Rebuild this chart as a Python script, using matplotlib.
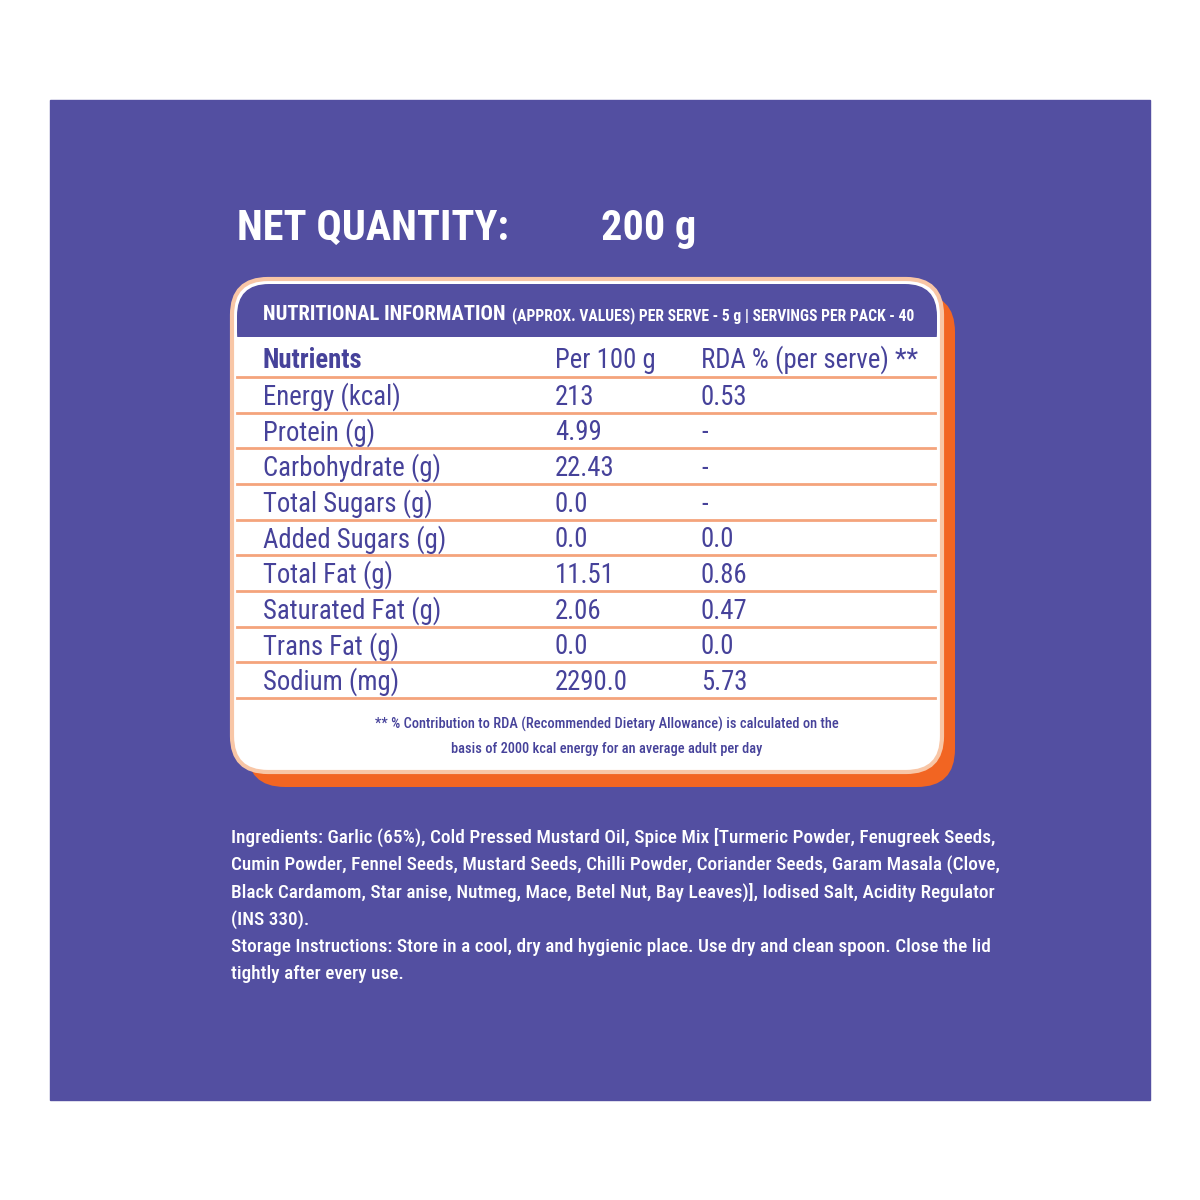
import matplotlib
matplotlib.use('Agg')
import matplotlib.pyplot as plt
from matplotlib.patches import FancyBboxPatch, Rectangle

plt.rcParams['font.family'] = ['Roboto Condensed', 'Roboto', 'DejaVu Sans']

# Label data
net_label = 'NET QUANTITY:'
net_quantity = '200 g'
header_main = 'NUTRITIONAL INFORMATION'
header_sub = '(APPROX. VALUES) PER SERVE - 5 g | SERVINGS PER PACK - 40'
columns = ['Nutrients', 'Per 100 g', 'RDA % (per serve) **']
nutrients = ['Energy (kcal)', 'Protein (g)', 'Carbohydrate (g)', 'Total Sugars (g)',
             'Added Sugars (g)', 'Total Fat (g)', 'Saturated Fat (g)', 'Trans Fat (g)',
             'Sodium (mg)']
per_100g = ['213', '4.99', '22.43', '0.0', '0.0', '11.51', '2.06', '0.0', '2290.0']
rda = ['0.53', '-', '-', '-', '0.0', '0.86', '0.47', '0.0', '5.73']
footnote = ['** % Contribution to RDA (Recommended Dietary Allowance) is calculated on the',
            'basis of 2000 kcal energy for an average adult per day']
ingredients = [
    'Ingredients: Garlic (65%), Cold Pressed Mustard Oil, Spice Mix [Turmeric Powder, Fenugreek Seeds,',
    'Cumin Powder, Fennel Seeds, Mustard Seeds, Chilli Powder, Coriander Seeds, Garam Masala (Clove,',
    'Black Cardamom, Star anise, Nutmeg, Mace, Betel Nut, Bay Leaves)], Iodised Salt, Acidity Regulator',
    '(INS 330).',
    'Storage Instructions: Store in a cool, dry and hygienic place. Use dry and clean spoon. Close the lid',
    'tightly after every use.',
]

PURPLE = '#534FA1'
TEXT_PURPLE = '#46429A'
ORANGE = '#F26522'
PEACH = '#F8C6A6'
LINE = '#F4A47C'

fig = plt.figure(figsize=(12, 12), dpi=100)
ax = fig.add_axes([0, 0, 1, 1])
ax.set_xlim(0, 1200)
ax.set_ylim(1200, 0)
ax.axis('off')
renderer = fig.canvas.get_renderer()


def fit_size(s, width, size, **kw):
    # shrink the font size so that s is no wider than width pixels
    t = ax.text(0, 0, s, fontsize=size, **kw)
    w = t.get_window_extent(renderer).width
    t.remove()
    return size * min(1.0, width / w)


# background panel
ax.add_patch(Rectangle((50, 100), 1100, 1000, color=PURPLE, zorder=0))

# net quantity
s = min(fit_size(net_label, 272, 48, fontweight='bold'),
        fit_size(net_quantity, 112, 48, fontweight='bold'))
ax.text(237, 240, net_label, color='white', fontsize=s, fontweight='bold',
        va='baseline', ha='left')
ax.text(601, 240, net_quantity, color='white', fontsize=s, fontweight='bold',
        va='baseline', ha='left')

# card: orange shadow, white card, purple header
ax.add_patch(FancyBboxPatch((247, 294), 708, 493, boxstyle='round,pad=0,rounding_size=38',
                            fc=ORANGE, ec='none', zorder=1))
ax.add_patch(FancyBboxPatch((232, 279), 710, 493, boxstyle='round,pad=0,rounding_size=36',
                            fc='white', ec=PEACH, lw=3, zorder=2))
ax.add_patch(FancyBboxPatch((237, 284), 700, 80, boxstyle='round,pad=0,rounding_size=32',
                            fc=PURPLE, ec='none', zorder=3))
ax.add_patch(Rectangle((236, 337), 702, 40, fc='white', ec='none', zorder=3))

s = fit_size(header_main, 244, 20, fontweight='bold')
ax.text(263, 320, header_main, color='white', fontsize=s, fontweight='bold',
        va='baseline', ha='left', zorder=4)
s = fit_size(header_sub, 402, 12, fontweight='bold')
ax.text(512, 320, header_sub, color='white', fontsize=s, fontweight='bold',
        va='baseline', ha='left', zorder=4)

# table
col_x = [263, 555, 701]
row_h = 35.67
top = 377
ts = min(fit_size('Carbohydrate (g)', 178, 22),
         fit_size(columns[2], 224, 22))
for x, c in zip(col_x, columns):
    ax.text(x, 368, c, color=TEXT_PURPLE, fontsize=ts,
            fontweight='semibold' if c == 'Nutrients' else 'normal',
            va='baseline', ha='left', zorder=4)
for i in range(len(nutrients) + 1):
    y = top + i * row_h
    ax.plot([237, 935], [y, y], color=LINE, lw=2, zorder=4)
for i, (n, p, r) in enumerate(zip(nutrients, per_100g, rda)):
    yb = top + (i + 1) * row_h - 8
    for x, t in zip(col_x, (n, p, r)):
        ax.text(x, yb, t, color=TEXT_PURPLE, fontsize=ts,
                va='baseline', ha='left', zorder=4)

fs = fit_size(footnote[0], 465, 14, fontweight='medium')
for j, line in enumerate(footnote):
    ax.text(607, 729 + j * 24, line, color=TEXT_PURPLE, fontsize=fs, fontweight='medium',
            va='baseline', ha='center', zorder=4)

# ingredients
isz = fit_size(ingredients[0], 762, 20, fontweight='medium')
for j, line in enumerate(ingredients):
    ax.text(231, 843 + j * 27.2, line, color='white', fontsize=isz, fontweight='medium',
            va='baseline', ha='left')

fig.savefig('out.png', dpi=100, facecolor='white')
